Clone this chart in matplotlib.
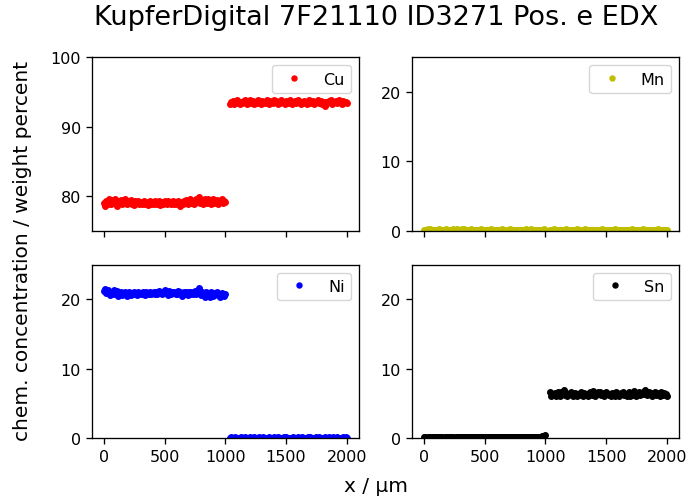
import numpy as np
import matplotlib
matplotlib.use("Agg")
import matplotlib.pyplot as plt
from matplotlib.ticker import MultipleLocator

# positions along the two line-scan segments in µm
x_left = np.arange(0, 1001, 10)
x_right = np.arange(1040, 2001, 10)

# weight percent per element, first segment then second segment
cu_left = [79.0, 78.6, 79.3, 78.8, 79.5, 79.1, 78.9, 79.4, 79.0, 79.6,
           79.2, 78.5, 79.3, 79.0, 79.4, 78.9, 79.1, 79.5, 79.0, 78.8,
           79.2, 79.0, 79.4, 78.9, 79.1, 78.7, 79.3, 79.0, 79.2, 78.9,
           79.1, 78.8, 79.0, 79.3, 78.9, 79.1, 78.7, 79.0, 79.2, 78.9,
           79.0, 78.8, 79.3, 79.1, 78.9, 79.2, 78.7, 79.0, 79.1, 78.8,
           79.2, 79.0, 78.9, 79.3, 79.0, 78.8, 79.1, 79.2, 78.9, 79.0,
           78.8, 79.2, 79.0, 78.5, 79.1, 78.9, 79.3, 79.0, 79.4, 78.8,
           79.2, 79.5, 79.0, 79.3, 78.9, 79.1, 79.6, 79.2, 79.8, 79.0,
           79.4, 79.1, 78.9, 79.5, 79.2, 79.0, 79.6, 79.1, 78.8, 79.3,
           79.5, 79.0, 79.2, 79.4, 78.9, 79.3, 79.1, 79.5, 79.0, 79.2,
           79.1]
cu_right = [93.2, 93.5, 93.7, 93.3, 93.6, 93.4, 93.8, 93.5, 93.2, 93.6,
            93.4, 93.7, 93.9, 93.5, 93.3, 93.6, 93.8, 93.4, 93.5, 93.7,
            93.3, 93.6, 93.4, 93.8, 93.5, 93.2, 93.7, 93.5, 93.6, 93.4,
            93.8, 93.5, 93.3, 93.7, 93.6, 93.4, 93.9, 93.5, 93.7, 93.3,
            93.6, 93.4, 93.8, 93.5, 93.6, 93.3, 93.7, 93.5, 93.4, 93.8,
            93.6, 93.3, 93.5, 93.7, 93.4, 93.6, 93.8, 93.5, 93.3, 93.6,
            93.4, 93.7, 93.5, 93.2, 93.6, 93.8, 93.4, 93.5, 93.7, 93.3,
            93.6, 93.5, 93.8, 93.4, 93.6, 93.7, 93.3, 93.5, 93.0, 93.6,
            93.4, 93.7, 93.5, 93.8, 93.3, 93.6, 93.5, 93.7, 93.4, 93.6,
            93.8, 93.5, 93.3, 93.7, 93.5, 93.6, 93.4]

mn_left = [0.10, 0.14, 0.08, 0.18, 0.12, 0.20, 0.09, 0.15, 0.11, 0.07,
           0.13, 0.10, 0.16, 0.09, 0.12, 0.08, 0.14, 0.11, 0.19, 0.10,
           0.07, 0.12, 0.15, 0.09, 0.21, 0.13, 0.10, 0.17, 0.08, 0.12,
           0.11, 0.16, 0.09, 0.20, 0.14, 0.10, 0.07, 0.13, 0.11, 0.18,
           0.09, 0.12, 0.15, 0.08, 0.11, 0.14, 0.10, 0.16, 0.09, 0.12,
           0.13, 0.10, 0.08, 0.14, 0.11, 0.17, 0.09, 0.12, 0.07, 0.15,
           0.10, 0.13, 0.09, 0.11, 0.16, 0.08, 0.12, 0.10, 0.14, 0.09,
           0.11, 0.18, 0.10, 0.13, 0.07, 0.12, 0.15, 0.09, 0.11, 0.14,
           0.08, 0.10, 0.13, 0.09, 0.16, 0.11, 0.08, 0.12, 0.19, 0.10,
           0.14, 0.09, 0.12, 0.08, 0.15, 0.11, 0.10, 0.13, 0.09, 0.21,
           0.12]
mn_right = [0.09, 0.13, 0.10, 0.16, 0.08, 0.12, 0.11, 0.15, 0.07, 0.10,
            0.14, 0.09, 0.12, 0.18, 0.10, 0.08, 0.13, 0.11, 0.15, 0.09,
            0.12, 0.10, 0.17, 0.08, 0.11, 0.14, 0.09, 0.12, 0.10, 0.16,
            0.07, 0.13, 0.11, 0.09, 0.15, 0.10, 0.12, 0.08, 0.14, 0.11,
            0.09, 0.13, 0.10, 0.19, 0.08, 0.12, 0.11, 0.14, 0.09, 0.10,
            0.13, 0.08, 0.12, 0.16, 0.10, 0.09, 0.14, 0.11, 0.07, 0.12,
            0.10, 0.15, 0.09, 0.13, 0.11, 0.08, 0.12, 0.17, 0.10, 0.09,
            0.14, 0.11, 0.12, 0.08, 0.13, 0.10, 0.16, 0.09, 0.11, 0.14,
            0.08, 0.12, 0.10, 0.15, 0.09, 0.13, 0.11, 0.07, 0.12, 0.20,
            0.10, 0.14, 0.09, 0.11, 0.13, 0.08, 0.12]

ni_left = [21.2, 21.5, 20.9, 21.3, 21.0, 20.6, 21.1, 20.8, 21.4, 20.7,
           20.9, 21.2, 20.5, 20.8, 21.0, 20.6, 20.9, 21.1, 20.7, 20.5,
           20.8, 21.0, 20.6, 20.9, 20.7, 21.1, 20.8, 20.6, 21.0, 20.8,
           20.9, 20.7, 21.0, 20.8, 20.6, 21.0, 20.9, 20.7, 21.1, 20.8,
           20.9, 21.1, 20.7, 21.0, 20.8, 21.2, 20.9, 21.0, 20.7, 21.1,
           21.3, 20.9, 21.0, 20.6, 21.2, 20.8, 21.0, 20.9, 21.1, 20.7,
           20.8, 21.2, 20.9, 21.0, 20.5, 20.9, 21.1, 20.8, 21.0, 20.6,
           21.0, 20.8, 21.1, 20.7, 20.9, 21.2, 20.8, 21.0, 21.7, 20.9,
           20.6, 21.0, 20.8, 20.4, 21.1, 20.7, 20.9, 20.3, 21.0, 20.8,
           20.5, 20.9, 20.7, 21.0, 20.6, 20.8, 20.4, 20.9, 20.7, 20.5,
           20.8]
ni_right = [0.05, 0.08, 0.03, 0.06, 0.10, 0.04, 0.07, 0.02, 0.06, 0.09,
            0.04, 0.05, 0.08, 0.03, 0.07, 0.05, 0.10, 0.04, 0.06, 0.03,
            0.08, 0.05, 0.07, 0.04, 0.09, 0.06, 0.03, 0.08, 0.05, 0.07,
            0.04, 0.06, 0.09, 0.05, 0.03, 0.07, 0.10, 0.04, 0.06, 0.08,
            0.05, 0.03, 0.07, 0.06, 0.09, 0.04, 0.08, 0.05, 0.06, 0.07,
            0.06, 0.04, 0.09, 0.05, 0.07, 0.03, 0.08, 0.06, 0.04, 0.10,
            0.05, 0.07, 0.03, 0.06, 0.08, 0.04, 0.09, 0.05, 0.07, 0.06,
            0.03, 0.08, 0.05, 0.10, 0.04, 0.06, 0.07, 0.05, 0.09, 0.03,
            0.06, 0.08, 0.04, 0.07, 0.05, 0.09, 0.06, 0.03, 0.08, 0.05,
            0.07, 0.04, 0.06, 0.10, 0.05, 0.08, 0.06]

sn_left = [0.08, 0.12, 0.05, 0.10, 0.14, 0.07, 0.11, 0.09, 0.13, 0.06,
           0.10, 0.15, 0.08, 0.12, 0.09, 0.11, 0.07, 0.13, 0.10, 0.14,
           0.08, 0.12, 0.09, 0.16, 0.11, 0.07, 0.13, 0.10, 0.12, 0.08,
           0.15, 0.09, 0.11, 0.14, 0.10, 0.18, 0.08, 0.12, 0.10, 0.13,
           0.09, 0.16, 0.11, 0.08, 0.14, 0.10, 0.12, 0.20, 0.13, 0.17,
           0.10, 0.07, 0.13, 0.09, 0.12, 0.15, 0.08, 0.11, 0.14, 0.10,
           0.12, 0.09, 0.16, 0.11, 0.08, 0.13, 0.10, 0.15, 0.12, 0.09,
           0.14, 0.11, 0.17, 0.10, 0.13, 0.08, 0.12, 0.15, 0.11, 0.14,
           0.10, 0.18, 0.12, 0.09, 0.15, 0.13, 0.11, 0.16, 0.12, 0.19,
           0.14, 0.11, 0.17, 0.13, 0.20, 0.15, 0.18, 0.22, 0.26, 0.33,
           0.45]
sn_right = [6.6, 6.0, 6.4, 6.2, 6.5, 6.1, 6.7, 6.3, 6.0, 6.6,
            6.4, 6.9, 6.2, 6.5, 6.1, 6.4, 6.3, 6.6, 6.2, 6.0,
            6.5, 6.3, 6.1, 6.4, 6.2, 6.7, 6.3, 6.1, 6.5, 6.2,
            6.4, 6.0, 6.3, 6.6, 6.2, 6.8, 6.4, 6.1, 6.5, 6.7,
            6.3, 6.6, 6.2, 6.5, 6.1, 6.4, 6.7, 6.3, 6.2, 6.4,
            6.1, 6.5, 6.3, 6.0, 6.6, 6.2, 6.4, 6.1, 6.5, 6.3,
            6.7, 6.2, 6.4, 6.0, 6.3, 6.6, 6.1, 6.5, 6.2, 6.8,
            6.4, 6.1, 6.3, 6.6, 6.2, 6.5, 6.7, 6.3, 6.9, 6.4,
            6.2, 6.6, 6.3, 6.5, 6.1, 6.4, 6.7, 6.2, 6.5, 6.3,
            6.1, 6.6, 6.4, 6.2, 6.5, 6.3, 6.0]

elements = ["Cu", "Mn", "Ni", "Sn"]
colors = ["r", "y", "b", "k"]
ylims = [(75, 100), (0, 25), (0, 25), (0, 25)]


def full_scan(left, right):
    x = np.concatenate([x_left, x_right])
    y = np.concatenate([np.asarray(left), np.asarray(right)])
    return x, y


plt.rcParams["font.size"] = 11.5
plt.rcParams["axes.linewidth"] = 0.95
plt.rcParams["xtick.major.width"] = 0.95
plt.rcParams["ytick.major.width"] = 0.95
plt.rcParams["xtick.major.size"] = 4.2
plt.rcParams["ytick.major.size"] = 4.2

fig, axs = plt.subplots(2, 2, sharex=True, figsize=(6.9, 5.02), dpi=100)
fig.subplots_adjust(left=0.133, right=0.984, bottom=0.1255, top=0.884,
                    wspace=0.198, hspace=0.197)

scans = [(cu_left, cu_right), (mn_left, mn_right),
         (ni_left, ni_right), (sn_left, sn_right)]

for ax, name, (left, right), c, lim in zip(axs.flat, elements, scans, colors, ylims):
    x, y = full_scan(left, right)
    ax.plot(x, y, ".", color=c, markersize=8, label=name)
    ax.set_ylim(lim)
    ax.yaxis.set_major_locator(MultipleLocator(10))
    ax.legend(loc="upper right", fontsize=11.5, markerscale=0.9)

axs[1, 0].set_xticks([0, 500, 1000, 1500, 2000])

fig.suptitle("KupferDigital 7F21110 ID3271 Pos. e EDX", x=0.545, y=0.965,
             fontsize=19.5, va="center")
fig.text(0.545, 0.030, "x / µm", ha="center", va="center", fontsize=14.5)
fig.text(0.033, 0.5, "chem. concentration / weight percent", rotation=90,
         ha="center", va="center", fontsize=14.5)

fig.savefig("out.png", dpi=100)
